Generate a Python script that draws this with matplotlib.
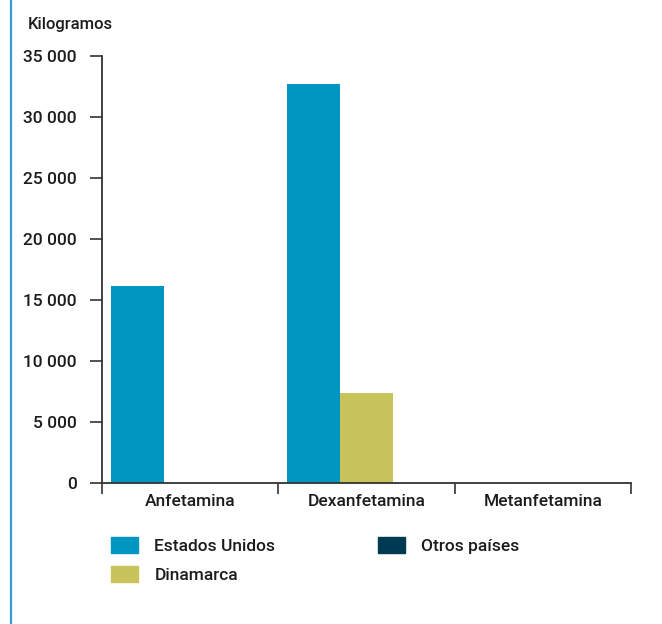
import matplotlib.pyplot as plt
import matplotlib.patches as mpatches
from matplotlib.ticker import FuncFormatter
import numpy as np

plt.rcParams['font.family'] = ['Roboto', 'DejaVu Sans']
plt.rcParams['font.weight'] = 'medium'

# data
drugs = ['Anfetamina', 'Dexanfetamina', 'Metanfetamina']
countries = ['Estados Unidos', 'Dinamarca', 'Otros países']
usa = [16150, 32700, 0]
dinamarca = [0, 7380, 0]
otros = [0, 0, 0]
colors = ['#0096c2', '#c8c35a', '#003a52']

txt_col = '#1c1c1c'

fig = plt.figure(figsize=(6.62, 6.24), dpi=100)
ax = fig.add_axes([102 / 662, 1 - 483 / 624, 529 / 662, 427 / 624])

x = np.arange(len(drugs))
w = 0.3
for i, (vals, col) in enumerate(zip([usa, dinamarca, otros], colors)):
    ax.bar(x + (i - 1) * w, vals, width=w, color=col, label=countries[i])

ax.set_xlim(-0.5, 2.5)
ax.set_ylim(0, 35000)
ax.set_yticks(np.arange(0, 35001, 5000))
ax.yaxis.set_major_formatter(FuncFormatter(lambda v, p: f'{int(v):,}'.replace(',', ' ')))

ax.set_xticks([-0.5, 0.5, 1.5, 2.5])
ax.set_xticklabels([])
ax.set_xticks(x, minor=True)
ax.set_xticklabels(drugs, minor=True)

spine_col = '#333333'
for s in ['top', 'right']:
    ax.spines[s].set_visible(False)
for s in ['left', 'bottom']:
    ax.spines[s].set_color(spine_col)
    ax.spines[s].set_linewidth(1.3)

ax.tick_params(axis='y', length=9, width=1.2, color=spine_col, pad=9, labelsize=12.5, labelcolor=txt_col)
ax.tick_params(axis='x', which='major', length=8, width=1.2, color=spine_col)
ax.tick_params(axis='x', which='minor', length=0, pad=8, labelsize=12.5, labelcolor=txt_col)

fig.text(28 / 662, 1 - 24 / 624, 'Kilogramos', fontsize=12, color=txt_col, va='center', ha='left')

# legend
handles = [mpatches.Patch(color=c) for c in colors]
leg = fig.legend(handles, countries, loc='upper left', bbox_to_anchor=(104 / 662, 1 - 530 / 624),
                 ncol=2, frameon=False, fontsize=12.5, handlelength=1.55, handleheight=1.05,
                 handletextpad=0.95, columnspacing=5.9, labelspacing=0.7, borderaxespad=0)
for t in leg.get_texts():
    t.set_color(txt_col)

# left border line
fig.add_artist(plt.Line2D([11 / 662, 11 / 662], [0, 1], color='#3a9ac9', linewidth=1.6))

fig.savefig('out.png', dpi=100)
